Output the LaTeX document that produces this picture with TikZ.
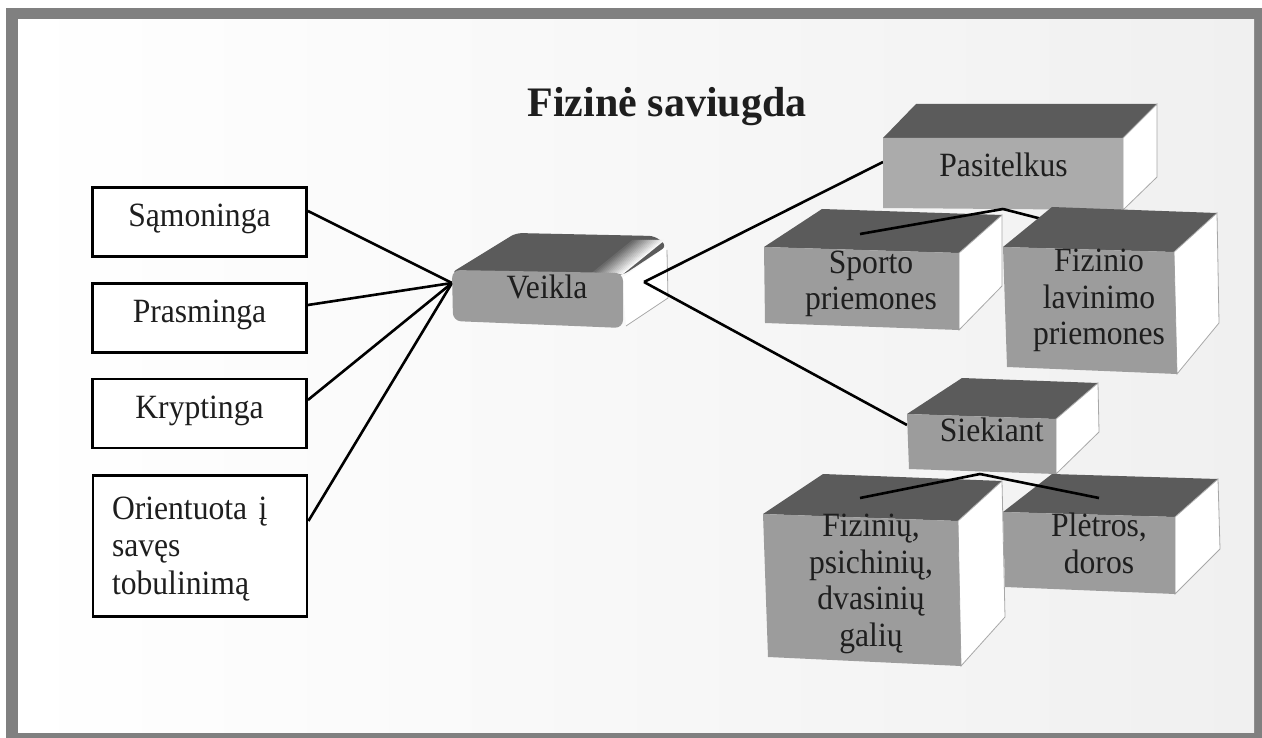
\documentclass[tikz,border=0pt]{standalone}
\usepackage{fontspec}
\setmainfont{Liberation Serif}
\newfontfamily\bodyfont[FakeStretch=0.93]{Liberation Serif}
\usetikzlibrary{calc}

\definecolor{framegray}{HTML}{808080}
\definecolor{topgray}{HTML}{5B5B5B}
\definecolor{frontgray}{HTML}{9C9C9C}
\definecolor{frontlight}{HTML}{ABABAB}
\definecolor{edgegray}{HTML}{A8A8A8}
\definecolor{ink}{HTML}{1E1E1E}
\definecolor{bgright}{HTML}{F0F0F0}

% a box seen in perspective: front corners, back corners, front colour
% #1 FTL  #2 FTR  #3 FBR  #4 FBL  #5 BTL  #6 BTR  #7 BBR  #8 front colour
\newcommand{\blockcube}[8]{%
  \fill[topgray] #1 -- #5 -- #6 -- #2 -- cycle;
  \filldraw[fill=white, draw=edgegray, line width=0.8pt] #2 -- #6 -- #7 -- #3 -- cycle;
  \fill[#8] #1 -- #2 -- #3 -- #4 -- cycle;
}

\begin{document}
\begin{tikzpicture}[x=1pt, y=-1pt,
  every node/.style={text=ink, font=\bodyfont\fontsize{34}{36.6}\selectfont},
  lbox/.style={draw=black, line width=2.8pt, fill=white, minimum width=214pt,
    minimum height=69pt, inner sep=0pt, text height=20pt, text depth=11pt},
  ctext/.style={align=center, inner sep=0pt, anchor=base, text width=220pt},
  link/.style={line width=2.6pt, black}]

\useasboundingbox (0,0) rectangle (1262,738);
\fill[white] (0,0) rectangle (1262,738);
\fill[framegray] (6,8) rectangle (1262,738);
\shade[left color=white, right color=bgright] (18,20) rectangle (1254,732);

% title
\node[font=\fontsize{42}{48}\selectfont\bfseries, anchor=base] (title) at (667,117) {Fizinė saviugda};

% qualities of the activity
\node[lbox] (b1) at (199.5,222) {Sąmoninga};
\node[lbox] (b2) at (199.5,318) {Prasminga};
\node[lbox] (b3) at (199.5,413.5) {Kryptinga};
\node[lbox, minimum height=141pt, text width=176pt, align=left,
  font=\bodyfont\fontsize{34}{37.5}\selectfont, text height=10pt, text depth=64pt]
  (b4) at (200,546) {Orientuota į\\savęs\\tobulinimą};

% central block "Veikla"
\coordinate (vL) at (452,283);
\coordinate (vR) at (644,282);
\draw[link] ([yshift=11pt]b1.east) -- (vL);
\draw[link] ([yshift=13pt]b2.east) -- (vL);
\draw[link] ([yshift=13.5pt]b3.east) -- (vL);
\draw[link] ([yshift=25pt]b4.east) -- (vL);

\fill[topgray, rounded corners=6pt] (451,273) -- (516,233) -- (655,236) -- (667,246) -- (623,275) -- cycle;
% rounded edge between top and side, lightening towards the side
\foreach \k in {0,...,15} {
  \pgfmathsetmacro{\mix}{int(4+\k*5.8)}
  \fill[topgray!\mix!white] (623-2*\k,274) -- (665-2*\k,240) -- (665-2*\k-2.6,240) -- (623-2*\k-2.6,274) -- cycle;
}
\fill[white] (622,278) -- (666,247) -- (668,298) -- (626,326) -- cycle;
\draw[edgegray, line width=0.8pt] (626,326) -- (668,298) -- (667,250);
\fill[frontgray, rounded corners=8pt] (452,270) -- (623,273) -- (623,328) -- (453,321) -- cycle;
\node[anchor=base] (veikla) at (547,299) {Veikla};

% means branch
\coordinate (pasL) at (883,162);
\coordinate (pasB) at (1003,209);
\coordinate (siekL) at (907,425);
\coordinate (siekB) at (980,474);
\draw[link] (vR) -- (pasL);
\draw[link] (vR) -- (siekL);

\blockcube{(883,138)}{(1123,138)}{(1123,210)}{(883,208)}{(916,104)}{(1157,104)}{(1157,177)}{frontlight}
\node[anchor=base] (pas) at (1003.5,177) {Pasitelkus};

\coordinate (fizT) at (1100,234);
\coordinate (spoT) at (860,234);
\draw[link] (pasB) -- (fizT);
\blockcube{(1003,247)}{(1174,252)}{(1177,374)}{(1007,367)}{(1052,207)}{(1217,213)}{(1219,323)}{frontgray}
\node[ctext] (fiz) at (1099,271.7) {Fizinio\\lavinimo\\priemones};
\blockcube{(764,247)}{(959,253)}{(959,330)}{(765,323)}{(822,209)}{(1002,215)}{(1002,286)}{frontgray}
\node[ctext] (spo) at (871,273.3) {Sporto\\priemones};
\draw[link] (pasB) -- (spoT);

% aims branch
\blockcube{(907,414)}{(1056,419)}{(1056,474)}{(909,469)}{(962,378)}{(1098,383)}{(1099,432)}{frontgray}
\node[anchor=base] (siek) at (991.7,441) {Siekiant};

\blockcube{(763,514)}{(958,521)}{(961,666)}{(768,657)}{(823,474)}{(1002,481)}{(1005,617)}{frontgray}
\node[ctext] (fzg) at (871,536.7) {Fizinių,\\psichinių,\\dvasinių\\galių};
\blockcube{(1003,512)}{(1175,517)}{(1175,594)}{(1005,587)}{(1052,474)}{(1218,479)}{(1220,549)}{frontgray}
\node[ctext] (ple) at (1099,536.7) {Plėtros,\\doros};

\coordinate (fzgT) at (860,498);
\coordinate (pleT) at (1099,498);
\draw[link] (siekB) -- (fzgT);
\draw[link] (siekB) -- (pleT);
\end{tikzpicture}
\end{document}
